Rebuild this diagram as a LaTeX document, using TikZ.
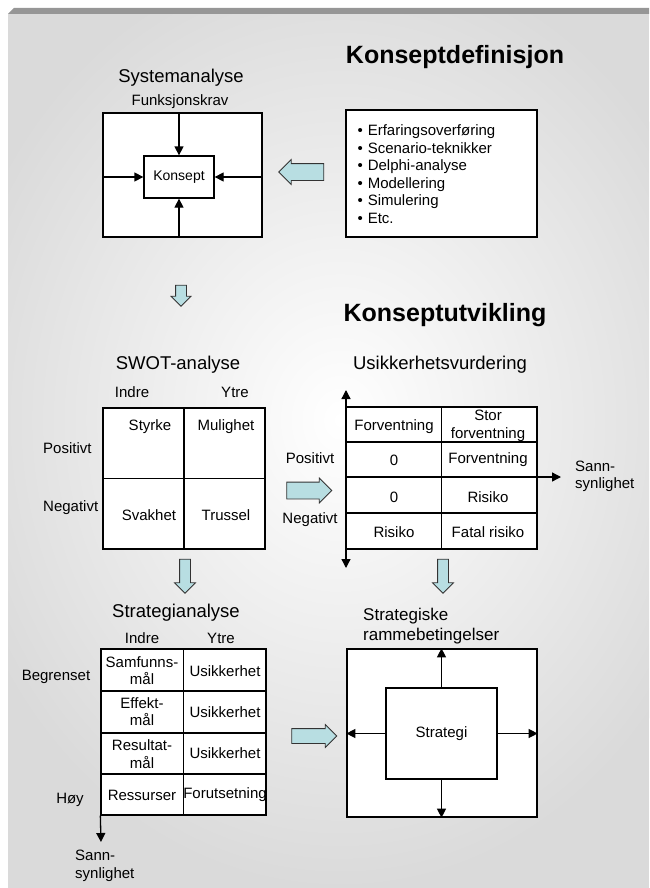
\documentclass[tikz,border=0pt]{standalone}
\usepackage{fontspec}
\setmainfont{Liberation Sans}
\usepackage{tikz}
\usetikzlibrary{arrows.meta}
\usetikzlibrary{shapes.arrows}
\definecolor{bakgrunn}{RGB}{218,218,218}
\definecolor{topplinje}{RGB}{150,150,150}
\definecolor{pilblaa}{RGB}{184,222,226}
\tikzset{
  boks/.style={draw,line width=1.3pt,fill=white,inner sep=0pt},
  pil/.style={line width=1.3pt,-{Triangle[length=9pt,width=9pt]}},
  blokkpil/.style={single arrow,draw=black!80,line width=0.8pt,fill=pilblaa,
    inner sep=0pt,single arrow head extend=4pt},
  overskrift/.style={font=\bfseries\fontsize{25}{28}\selectfont},
  tittel/.style={font=\fontsize{18.5}{21}\selectfont},
  tekst/.style={font=\fontsize{15}{17.5}\selectfont,align=center},
}

\begin{document}
\begin{tikzpicture}[x=1pt,y=-1pt]
  \useasboundingbox (0,0) rectangle (649,888);
  % bakgrunn
  \fill[bakgrunn] (8,14) rectangle (649,888);
  \begin{scope}
    \clip (8,14) rectangle (649,888);
    \shade[inner color=white,outer color=bakgrunn] (340,420) ellipse (400 and 470);
  \end{scope}
  \fill[topplinje] (8,14) -- (14,8) -- (649,8) -- (649,14) -- cycle;

  % Konseptdefinisjon
  \node[overskrift] (kdef) at (455,57) {Konseptdefinisjon};
  \node[tittel] (sysana) at (181,78) {Systemanalyse};
  \node[tekst] (fkrav) at (180,102) {Funksjonskrav};
  \node[boks,minimum width=159pt,minimum height=124pt] (sys) at (182.5,175) {};
  \node[boks,minimum width=70pt,minimum height=42pt,font=\fontsize{14}{16}\selectfont] (konsept) at (179,177) {Konsept};
  \draw[pil] (sys.north -| konsept.north) -- (konsept.north);
  \draw[pil] (sys.south -| konsept.south) -- (konsept.south);
  \draw[pil] (sys.west |- konsept.west) -- (konsept.west);
  \draw[pil] (sys.east |- konsept.east) -- (konsept.east);
  \node[blokkpil,minimum height=45pt,inner ysep=8pt,shape border rotate=180] (pil1) at (305.5,172) {};
  \node[boks,minimum width=191pt,minimum height=127pt] (metoder) at (441.5,173.5) {};
  \node[tekst,align=left,anchor=north west,font=\fontsize{15}{17.6}\selectfont] (liste) at (354,121)
    {•\hspace{5pt}Erfaringsoverføring\\ •\hspace{5pt}Scenario-teknikker\\ •\hspace{5pt}Delphi-analyse\\
     •\hspace{5pt}Modellering\\ •\hspace{5pt}Simulering\\ •\hspace{5pt}Etc.};
  \node[blokkpil,minimum height=21pt,inner ysep=5pt,single arrow head extend=4.5pt,rotate=-90] (pil2) at (181,293) {};

  % Konseptutvikling
  \node[overskrift] (kutv) at (445,315) {Konseptutvikling};

  % SWOT
  \node[tittel] (swottittel) at (178,365) {SWOT-analyse};
  \node[tekst] (swotindre) at (132,392) {Indre};
  \node[tekst] (swotytre) at (235,392) {Ytre};
  \node[boks,minimum width=162pt,minimum height=141pt] (swot) at (184,478.5) {};
  \draw[line width=1.3pt] (swot.north) -- (swot.south);
  \draw[line width=1.3pt] (swot.west) -- (swot.east);
  \node[tekst] (styrke) at (150,427) {Styrke};
  \node[tekst] (mulighet) at (226,427) {Mulighet};
  \node[tekst] (svakhet) at (149,515) {Svakhet};
  \node[tekst] (trussel) at (226,515) {Trussel};
  \node[tekst,anchor=west,inner sep=0pt] (swotpos) at (43,448) {Positivt};
  \node[tekst,anchor=west,inner sep=0pt] (swotneg) at (43,508) {Negativt};
  \node[blokkpil,minimum height=45pt,inner ysep=8pt] (pil3) at (305,490.5) {};

  % Usikkerhetsvurdering
  \node[tittel] (usiktittel) at (440,365) {Usikkerhetsvurdering};
  \node[tekst] (usikpos) at (310,458) {Positivt};
  \node[tekst] (usikneg) at (310,520) {Negativt};
  \node[boks,minimum width=191pt,minimum height=142pt] (usik) at (441.5,478) {};
  \draw[line width=1.3pt] (usik.north) -- (usik.south);
  \draw[line width=1.3pt] (346,442) -- (537,442);
  \draw[line width=1.3pt] (346,477) -- (537,477);
  \draw[line width=1.3pt] (346,513) -- (537,513);
  \node[tekst] (u11) at (394,427) {Forventning};
  \node[tekst] (u12) at (488,426) {Stor\\forventning};
  \node[tekst] (u21) at (394,460) {0};
  \node[tekst] (u22) at (488,460) {Forventning};
  \node[tekst] (u31) at (394,497) {0};
  \node[tekst] (u32) at (488,497) {Risiko};
  \node[tekst] (u41) at (394,532) {Risiko};
  \node[tekst] (u42) at (488,532) {Fatal risiko};
  \coordinate (aksetopp) at (346,390);
  \coordinate (aksebunn) at (346,568);
  \coordinate (aksehoyre) at (561,477);
  \draw[pil,{Triangle[length=9pt,width=9pt]}-{Triangle[length=9pt,width=9pt]}] (aksetopp) -- (aksebunn);
  \draw[pil] (usik.east |- aksehoyre) -- (aksehoyre);
  \node[tekst,align=left,anchor=west,inner sep=0pt] (sann1) at (575,476.5) {Sann-\\synlighet};
  \node[blokkpil,minimum height=34pt,inner ysep=5pt,single arrow head extend=5pt,rotate=-90] (pil4) at (185,573.5) {};
  \node[blokkpil,minimum height=34pt,inner ysep=5pt,single arrow head extend=5pt,rotate=-90] (pil5) at (443,573.5) {};

  % Strategianalyse
  \node[tittel] (strattittel) at (176,613) {Strategianalyse};
  \node[tekst] (stratindre) at (142,638) {Indre};
  \node[tekst] (stratytre) at (221,638) {Ytre};
  \node[boks,minimum width=165pt,minimum height=166pt] (strat) at (183.5,732) {};
  \draw[line width=1.3pt] (strat.north) -- (strat.south);
  \draw[line width=1.3pt] (101,691) -- (266,691);
  \draw[line width=1.3pt] (101,733) -- (266,733);
  \draw[line width=1.3pt] (101,774) -- (266,774);
  \node[tekst] (s11) at (142,670.5) {Samfunns-\\mål};
  \node[tekst] (s12) at (225,671) {Usikkerhet};
  \node[tekst] (s21) at (142,711.5) {Effekt-\\mål};
  \node[tekst] (s22) at (225,712) {Usikkerhet};
  \node[tekst] (s31) at (142,754) {Resultat-\\mål};
  \node[tekst] (s32) at (225,753) {Usikkerhet};
  \node[tekst] (s41) at (142,795) {Ressurser};
  \node[tekst] (s42) at (225,795) {Forutsetning};
  \node[tekst] (begrenset) at (56,677) {Begrenset};
  \node[tekst] (hoy) at (70,800) {Høy};
  \coordinate (stratakse) at (101,842);
  \draw[pil] (strat.south west) -- (stratakse);
  \node[tekst,align=left,anchor=west,inner sep=0pt] (sann2) at (75,866) {Sann-\\synlighet};
  \node[blokkpil,minimum height=45pt,inner ysep=7pt] (pil6) at (310.5,736) {};

  % Strategiske rammebetingelser
  \node[font=\fontsize{17}{20}\selectfont,align=left,anchor=west,inner sep=0pt] (rammetittel) at (363,626)
    {Strategiske\\rammebetingelser};
  \node[boks,minimum width=190pt,minimum height=168pt] (ramme) at (442,733) {};
  \node[boks,minimum width=111pt,minimum height=91pt,font=\fontsize{15}{17}\selectfont] (strategi) at (441.5,733.5) {Strategi};
  \draw[pil] (strategi.north) -- (ramme.north -| strategi.north);
  \draw[pil] (strategi.south) -- (ramme.south -| strategi.south);
  \draw[pil] (strategi.west) -- (ramme.west |- strategi.west);
  \draw[pil] (strategi.east) -- (ramme.east |- strategi.east);
\end{tikzpicture}
\end{document}
